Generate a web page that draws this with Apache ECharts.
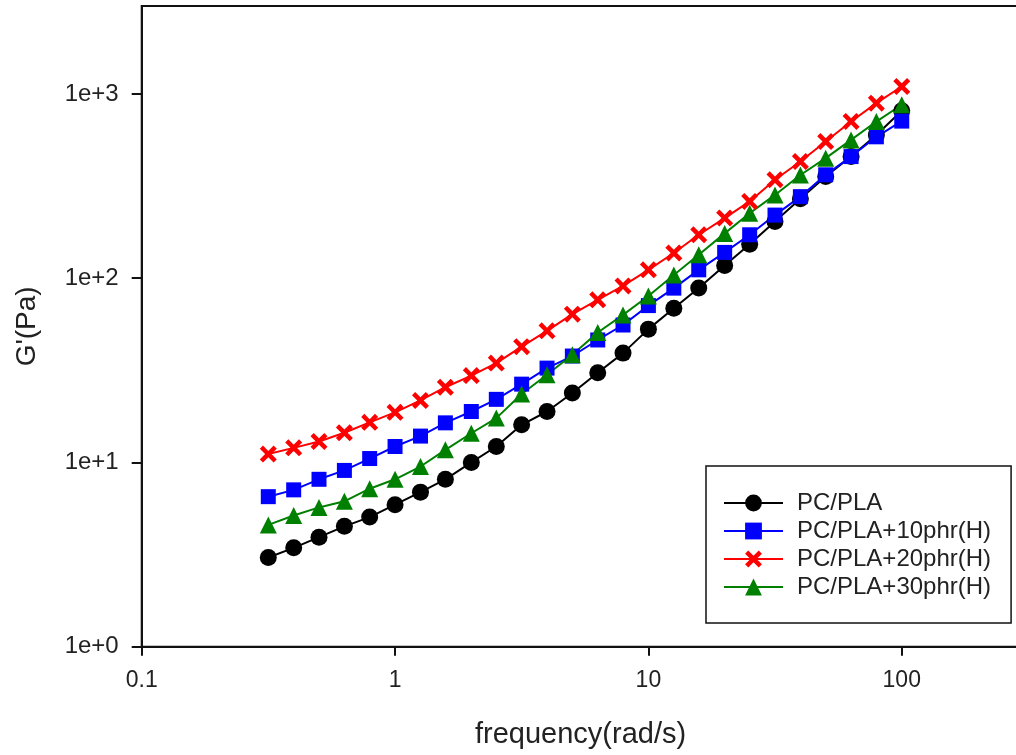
<!DOCTYPE html>
<html>
<head>
<meta charset="utf-8">
<script src="https://cdn.jsdelivr.net/npm/echarts@6/dist/echarts.min.js"></script>
<style>
  html, body { margin: 0; padding: 0; background: #fff; overflow: hidden; width: 1016px; height: 755px; }
  #chart { width: 1160px; height: 755px; }
</style>
</head>
<body>
<div id="chart"></div>
<script>
// Angular frequency sweep (rad/s), 10 points per decade
const frequency = [0.316, 0.398, 0.501, 0.631, 0.794, 1, 1.26, 1.58, 2.0, 2.51, 3.16, 3.98, 5.01,
  6.31, 7.94, 10, 12.6, 15.8, 20, 25.1, 31.6, 39.8, 50.1, 63.1, 79.4, 100];

// Storage modulus G' (Pa) per blend
const gPcPla = [3.05, 3.44, 3.93, 4.5, 5.05, 5.9, 6.9, 8.1, 10.0, 12.2, 16.0, 18.9, 23.8,
  30.7, 39.2, 52.9, 68.7, 88.5, 117, 153, 203, 270, 356, 458, 598, 810];
const gH10 = [6.52, 7.1, 8.1, 9.05, 10.5, 12.2, 13.9, 16.4, 18.9, 22.0, 26.6, 32.5, 37.8,
  46.2, 55.7, 71, 88.3, 111, 138, 172, 220, 277, 364, 457, 585, 712];
const gH20 = [11.1, 12.0, 13.0, 14.5, 16.5, 18.7, 21.7, 25.6, 29.6, 34.6, 42.5, 51.8, 63.8,
  76.3, 90.8, 111, 137, 172, 212, 261, 342, 430, 552, 709, 891, 1097];
const gH30 = [4.58, 5.15, 5.7, 6.15, 7.2, 8.1, 9.5, 11.7, 14.4, 17.4, 23.5, 29.9, 38.4,
  50.7, 63.2, 80, 104, 134, 175, 225, 283, 363, 448, 563, 708, 873];

const seriesNames = ['PC/PLA', 'PC/PLA+10phr(H)', 'PC/PLA+20phr(H)', 'PC/PLA+30phr(H)'];
const yTickValues = [1, 10, 100, 1000];
const xTitle = 'frequency(rad/s)';
const yTitle = "G'(Pa)";

const FONT = '"Liberation Sans", Arial, sans-serif';
// Bold "x" marker
const crossPath = 'path://M0,3 L3,0 L8,5 L13,0 L16,3 L11,8 L16,13 L13,16 L8,11 L3,16 L0,13 L5,8 Z';

function pairs(ys) {
  return frequency.map((f, i) => [f, ys[i]]);
}

function lineSeries(name, ys, color, symbol, size) {
  return {
    name: name,
    type: 'line',
    data: pairs(ys),
    symbol: symbol,
    symbolSize: size,
    symbolKeepAspect: true,
    showAllSymbol: true,
    lineStyle: { color: color, width: 2 },
    itemStyle: { color: color, borderWidth: 0 },
    emphasis: { disabled: true },
    z: 3
  };
}

// Canvas is wider than the page: the frame continues past the right edge (x axis ends at 1000 rad/s)
const chart = echarts.init(document.getElementById('chart'), null, {
  renderer: 'canvas', width: 1160, height: 755
});

chart.setOption({
  backgroundColor: '#ffffff',
  animation: false,
  grid: {
    left: 141.7,
    top: 6,
    right: 4.9,
    bottom: 108.3,
    show: true,
    borderColor: '#111',
    borderWidth: 2,
    containLabel: false,
    outerBoundsMode: 'none'
  },
  xAxis: {
    type: 'log',
    logBase: 10,
    min: 0.1,
    max: 1000,
    splitLine: { show: false },
    minorTick: { show: false },
    axisLine: { lineStyle: { color: '#111', width: 2 } },
    axisTick: { inside: false, length: 9, lineStyle: { color: '#111', width: 2 } },
    axisLabel: { color: '#222', fontFamily: FONT, fontSize: 23, margin: 22 }
  },
  yAxis: {
    type: 'log',
    logBase: 10,
    min: 1,
    max: 3000,
    name: yTitle,
    nameLocation: 'middle',
    nameGap: 100,
    nameTextStyle: { color: '#222', fontFamily: FONT, fontSize: 28 },
    splitLine: { show: false },
    minorTick: { show: false },
    axisLine: { lineStyle: { color: '#111', width: 2 } },
    axisTick: { inside: false, length: 10, lineStyle: { color: '#111', width: 2 }, customValues: yTickValues },
    axisLabel: {
      color: '#222', fontFamily: FONT, fontSize: 24, margin: 23,
      customValues: yTickValues,
      formatter: function (v) {
        const p = Math.log10(v);
        if (Math.abs(p - Math.round(p)) > 1e-6) return '';
        return '1e+' + Math.round(p);
      }
    }
  },
  legend: {
    orient: 'vertical',
    left: 706,
    top: 466,
    padding: [23, 20, 22, 17],
    itemGap: 0,
    itemWidth: 59,
    itemHeight: 21,
    borderColor: '#111',
    borderWidth: 1.5,
    backgroundColor: '#fff',
    selectedMode: false,
    textStyle: { color: '#222', fontFamily: FONT, fontSize: 24, lineHeight: 28, padding: [0, 0, 0, 9] },
    data: seriesNames
  },
  graphic: [{
    type: 'text',
    left: 581 - 106,
    top: 720,
    style: { text: xTitle, fill: '#222', font: '29px ' + FONT }
  }],
  series: [
    lineSeries(seriesNames[0], gPcPla, '#000000', 'circle', 17),
    lineSeries(seriesNames[1], gH10, '#0000ff', 'rect', 15),
    lineSeries(seriesNames[2], gH20, '#ff0000', crossPath, 17),
    lineSeries(seriesNames[3], gH30, '#008000', 'triangle', 17)
  ]
});
</script>
</body>
</html>
